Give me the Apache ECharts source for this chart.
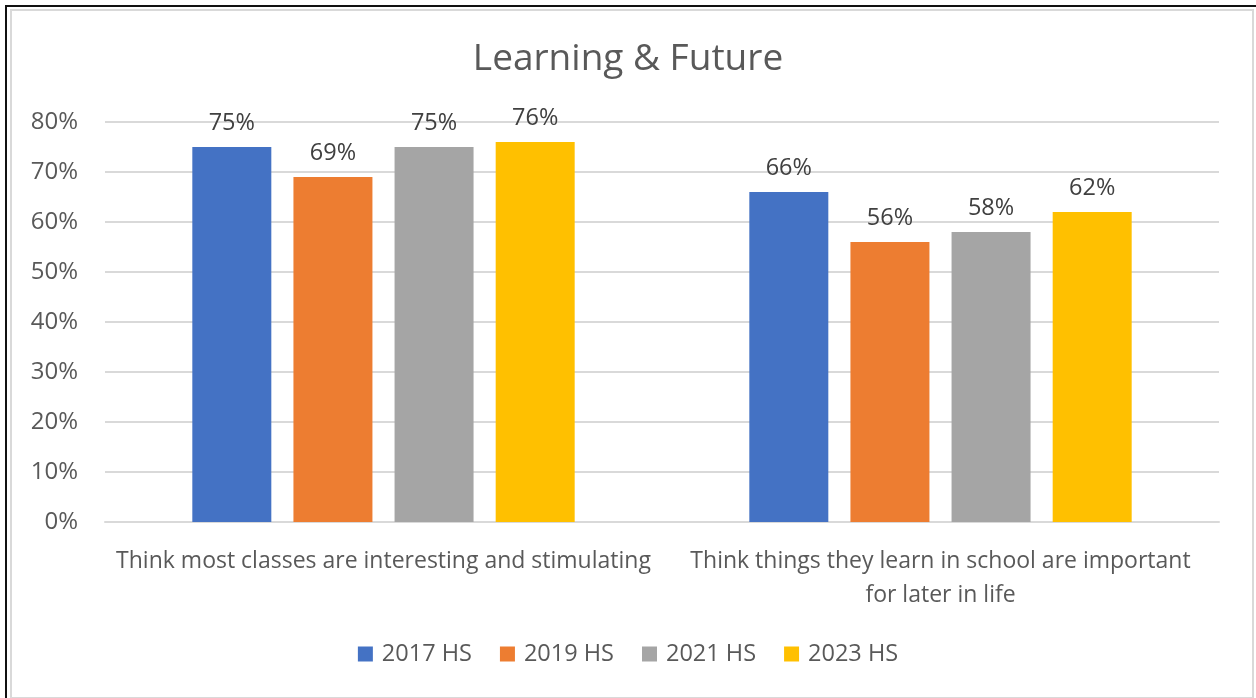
<!DOCTYPE html>
<html>
<head>
<meta charset="utf-8">
<script src="https://cdn.jsdelivr.net/npm/echarts@6/dist/echarts.min.js"></script>
<style>
  html, body { margin: 0; padding: 0; background: #fff; }
  #chart { position: absolute; left: 0; top: 0; width: 1256px; height: 698px; }
  .frame-dark { position: absolute; background: #111; }
  .frame-light { position: absolute; left: 10px; top: 9px; width: 1240px; height: 686px;
                 border: 2px solid #d9d9d9; pointer-events: none; }
</style>
</head>
<body>
<div id="chart"></div>
<div class="frame-dark" style="left:5px;top:5px;width:1251px;height:2px;"></div>
<div class="frame-dark" style="left:5px;top:5px;width:2px;height:693px;"></div>
<div class="frame-light"></div>
<script>
// Survey items shown on the x axis
const categories = [
  'Think most classes are interesting and stimulating',
  'Think things they learn in school are important for later in life'
];
// Survey waves
const waves = ['2017 HS', '2019 HS', '2021 HS', '2023 HS'];
// Percent agreeing, per wave
const values2017 = [75, 66];
const values2019 = [69, 56];
const values2021 = [75, 58];
const values2023 = [76, 62];
// Y axis ticks
const yMin = 0, yMax = 80, yStep = 10;

const colors = ['#4472c4', '#ed7d31', '#a5a5a5', '#ffc000'];
const seriesValues = [values2017, values2019, values2021, values2023];
const fontFamily = '"Open Sans", Lato, sans-serif';

// Wrap a label at word boundaries so no line exceeds maxChars characters
function wrapWords(text, maxChars) {
  const lines = [];
  let line = '';
  text.split(' ').forEach(word => {
    const next = line ? line + ' ' + word : word;
    if (next.length > maxChars && line) {
      lines.push(line);
      line = word;
    } else {
      line = next;
    }
  });
  if (line) lines.push(line);
  return lines.join('\n');
}

const chart = echarts.init(document.getElementById('chart'), null, { renderer: 'canvas' });

chart.setOption({
  animation: false,
  color: colors,
  textStyle: { fontFamily },
  title: {
    text: 'Learning & Future',
    left: 'center',
    top: 36,
    textStyle: { fontFamily, fontSize: 37, fontWeight: 'normal', color: '#595959' }
  },
  legend: {
    data: waves,
    bottom: 27,
    left: 'center',
    itemWidth: 15,
    itemHeight: 15,
    itemGap: 28,
    icon: 'rect',
    textStyle: { fontFamily, fontSize: 23.5, color: '#595959', padding: [0, 0, 0, 4] }
  },
  grid: { left: 105, right: 37, top: 122, bottom: 176, containLabel: false },
  xAxis: {
    type: 'category',
    data: categories,
    axisLine: { show: true, lineStyle: { color: '#d9d9d9', width: 2 } },
    axisTick: { show: false },
    axisLabel: {
      interval: 0,
      margin: 22,
      fontFamily,
      fontSize: 23,
      color: '#595959',
      lineHeight: 34,
      formatter: value => wrapWords(value, 50)
    }
  },
  yAxis: {
    type: 'value',
    min: yMin,
    max: yMax,
    interval: yStep,
    axisLine: { show: false },
    axisTick: { show: false },
    axisLabel: {
      formatter: '{value}%',
      fontFamily,
      fontSize: 24,
      color: '#595959',
      margin: 27
    },
    splitLine: { lineStyle: { color: '#d9d9d9', width: 2 } }
  },
  series: waves.map((name, i) => ({
    name,
    type: 'bar',
    data: seriesValues[i],
    barWidth: 79,
    barGap: '28%',
    itemStyle: { color: colors[i] },
    label: {
      show: true,
      position: 'top',
      distance: 12,
      formatter: '{c}%',
      fontFamily,
      fontSize: 23.5,
      color: '#404040'
    }
  }))
});
</script>
</body>
</html>
